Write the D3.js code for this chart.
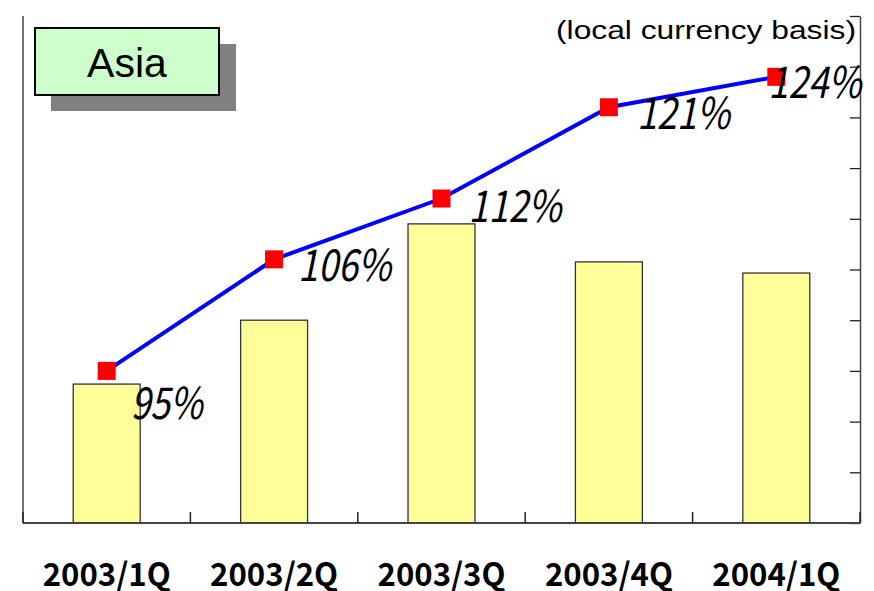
<!DOCTYPE html>
<html>
<head>
<meta charset="utf-8">
<script src="https://cdn.jsdelivr.net/npm/d3@7"></script>
<style>
  body { margin: 0; background: #fff; }
  svg { display: block; }
</style>
</head>
<body>
<div id="chart"></div>
<script>
// data
var quarters = ["2003/1Q", "2003/2Q", "2003/3Q", "2003/4Q", "2004/1Q"];
var sales = [2.74, 4.0, 5.9, 5.15, 4.93];       // bars, left axis has no labels
var growth = [95, 106, 112, 121, 124];          // % line, right axis
var growthLabels = ["95%", "106%", "112%", "121%", "124%"];

var width = 874, height = 591;
var plot = {left: 23, right: 860, top: 16, bottom: 523};

var svg = d3.select("#chart").append("svg")
    .attr("width", width).attr("height", height);

var x = d3.scaleBand()
    .domain(quarters)
    .range([plot.left, plot.right])
    .paddingInner(0.6)
    .paddingOuter(0.3);

var yBar = d3.scaleLinear().domain([0, 10]).range([plot.bottom, plot.top]);
var yPct = d3.scaleLinear().domain([80, 130]).range([plot.bottom, plot.top]);

// bars
svg.selectAll(".bar")
    .data(sales)
  .enter().append("rect")
    .attr("class", "bar")
    .attr("x", function(d, i) { return x(quarters[i]); })
    .attr("y", function(d) { return yBar(d); })
    .attr("width", x.bandwidth())
    .attr("height", function(d) { return yBar(0) - yBar(d); })
    .style("fill", "#ffff99")
    .style("stroke", "#333")
    .style("stroke-width", 1.3);

// axes
svg.append("line")
    .attr("x1", plot.left).attr("x2", plot.left).attr("y1", plot.top).attr("y2", plot.bottom)
    .style("stroke", "#444").style("stroke-width", 1.5);

var rightAxis = d3.axisLeft(yPct)
    .tickValues(d3.range(80, 131, 5))
    .tickFormat("")
    .tickSize(10)
    .tickSizeOuter(0);
var ra = svg.append("g")
    .attr("transform", "translate(" + plot.right + ",0)")
    .call(rightAxis);
ra.select(".domain").style("stroke", "#444").style("stroke-width", 1.5);
ra.selectAll(".tick line").style("stroke", "#222").style("stroke-width", 1.3);

svg.append("line")
    .attr("x1", plot.left).attr("x2", plot.right).attr("y1", plot.bottom).attr("y2", plot.bottom)
    .style("stroke", "#444").style("stroke-width", 2);

// category dividers on the x axis
var gap = (x.step() - x.bandwidth()) / 2;
var edges = quarters.map(function(q) { return x(q) - gap; }).concat([plot.right]);
svg.selectAll(".xtick")
    .data(edges)
  .enter().append("line")
    .attr("x1", function(d) { return d; })
    .attr("x2", function(d) { return d; })
    .attr("y1", plot.bottom - 11)
    .attr("y2", plot.bottom)
    .style("stroke", "#222")
    .style("stroke-width", 1.5);

// x labels
svg.selectAll(".xlab")
    .data(quarters)
  .enter().append("text")
    .attr("x", function(d) { return x(d) + x.bandwidth() / 2; })
    .attr("y", 586)
    .attr("text-anchor", "middle")
    .attr("textLength", 128)
    .attr("lengthAdjust", "spacingAndGlyphs")
    .style("font-family", "'Noto Sans CJK JP', sans-serif")
    .style("font-weight", "bold")
    .style("font-size", "32px")
    .text(function(d) { return d; });

// growth line
var line = d3.line()
    .x(function(d, i) { return x(quarters[i]) + x.bandwidth() / 2; })
    .y(function(d) { return yPct(d); });

svg.append("path")
    .datum(growth)
    .attr("d", line)
    .style("fill", "none")
    .style("stroke", "#0000ff")
    .style("stroke-width", 4);

svg.selectAll(".mark")
    .data(growth)
  .enter().append("rect")
    .attr("x", function(d, i) { return x(quarters[i]) + x.bandwidth() / 2 - 9; })
    .attr("y", function(d) { return yPct(d) - 9; })
    .attr("width", 18).attr("height", 18)
    .style("fill", "#ff0000");

// label nudges (dx, dy from the marker), like the manual placement in the original
var nudge = [[24, 48], [24, 22], [27, 23], [28, 22], [-8, 21]];
svg.selectAll(".plab")
    .data(growth)
  .enter().append("text")
    .attr("x", function(d, i) { return x(quarters[i]) + x.bandwidth() / 2 + nudge[i][0]; })
    .attr("y", function(d, i) { return yPct(d) + nudge[i][1]; })
    .attr("textLength", function(d, i) { return growthLabels[i].length == 3 ? 72 : 93; })
    .attr("lengthAdjust", "spacingAndGlyphs")
    .style("font-family", "'Noto Sans CJK JP', sans-serif")
    .style("font-style", "italic")
    .style("font-size", "44px")
    .text(function(d, i) { return growthLabels[i]; });

// note at top right
svg.append("text")
    .attr("x", 856).attr("y", 39)
    .attr("text-anchor", "end")
    .attr("textLength", 300)
    .attr("lengthAdjust", "spacingAndGlyphs")
    .style("font-family", "'Liberation Sans', Arial, sans-serif")
    .style("font-size", "25px")
    .text("(local currency basis)");

// region box with shadow
svg.append("rect")
    .attr("x", 51).attr("y", 44).attr("width", 185).attr("height", 67)
    .style("fill", "#808080");
svg.append("rect")
    .attr("x", 35).attr("y", 28).attr("width", 184).attr("height", 67)
    .style("fill", "#ccffcc")
    .style("stroke", "#000")
    .style("stroke-width", 2);
svg.append("text")
    .attr("x", 127).attr("y", 77)
    .attr("text-anchor", "middle")
    .style("font-family", "'Liberation Sans', Arial, sans-serif")
    .style("font-size", "41px")
    .text("Asia");
</script>
</body>
</html>
